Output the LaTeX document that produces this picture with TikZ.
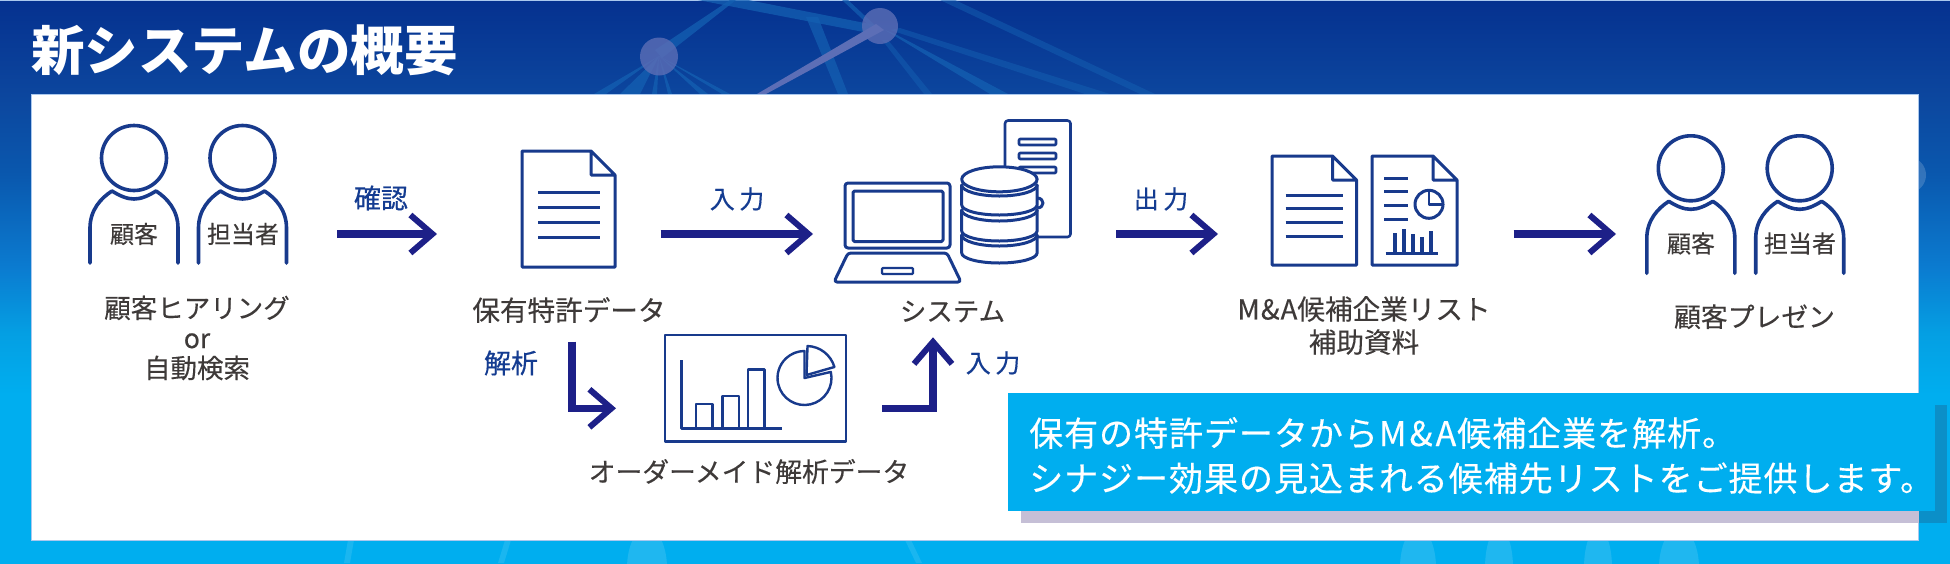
\documentclass[tikz,border=0pt]{standalone}
\usepackage{fontspec}
\usepackage{tikz}
\usepackage{xcolor}
\usetikzlibrary{arrows.meta,positioning,calc}
\setmainfont{Noto Sans CJK JP}
\newfontfamily\cjk[FakeBold=0.25]{Noto Sans CJK JP}
\newfontfamily\cjkhead{Noto Sans CJK JP}
\newfontfamily\cjkmid[FakeBold=0.5]{Noto Sans CJK JP}
\newfontfamily\cjkwide[FakeBold=0.5,LetterSpace=18]{Noto Sans CJK JP}
\newfontfamily\cjkbox[FakeBold=0.3,LetterSpace=2.85]{Noto Sans CJK JP}
\definecolor{bgnavy}{RGB}{5,49,143}
\definecolor{bgroyal}{RGB}{12,70,158}
\definecolor{bgmid}{RGB}{10,88,174}
\definecolor{bgocean}{RGB}{11,123,208}
\definecolor{bgsky}{RGB}{4,159,227}
\definecolor{skybox}{RGB}{0,174,239}
\definecolor{iconblue}{RGB}{24,58,140}
\definecolor{arrownavy}{RGB}{29,32,136}
\definecolor{labblue}{RGB}{20,60,145}
\definecolor{inkgrey}{RGB}{62,58,57}
\definecolor{shadowlilac}{RGB}{197,191,214}
\definecolor{shadowsea}{RGB}{11,143,200}
\definecolor{panelrim}{RGB}{170,200,238}
\definecolor{netblue}{RGB}{20,96,178}
\definecolor{netpurple}{RGB}{92,110,182}
\pgfdeclareverticalshading{bgfade}{100bp}{color(0bp)=(skybox); color(40bp)=(skybox);
  color(45.4bp)=(bgsky); color(51.3bp)=(bgocean); color(59.5bp)=(bgmid);
  color(66.6bp)=(bgroyal); color(75bp)=(bgnavy); color(100bp)=(bgnavy)}
\tikzset{
  icon/.style={draw=iconblue,line width=3pt,line join=round,line cap=round},
  sheetline/.style={draw=iconblue,line width=3pt},
  flow/.style={draw=arrownavy,line width=7.5pt,
    -{Straight Barb[length=22pt,width=38pt,line width=6pt]}},
  lab/.style={font=\cjk\fontsize{26.5}{30}\selectfont,text=inkgrey,align=center,inner sep=0pt},
  labwide/.style={font=\cjk\fontsize{27.6}{33}\selectfont,text=inkgrey,align=center,inner sep=0pt},
  tag/.style={font=\cjk\fontsize{24}{28}\selectfont,text=inkgrey,inner sep=0pt},
  act/.style={font=\cjkmid\fontsize{27}{30}\selectfont,text=labblue,inner sep=0pt},
  actwide/.style={font=\cjkwide\fontsize{25}{28}\selectfont,text=labblue,inner sep=0pt},
  net/.style={fill=netblue,fill opacity=.75},
  spot/.style={fill=netpurple,fill opacity=.8},
  person/.pic={
    \draw[icon,line width=3.6pt] (0,0) circle[radius=32.5];
    \draw[icon,line width=3.6pt] (-44,105) -- (-44,70) .. controls (-44,52) and (-33,40) .. (-22,33)
      .. controls (-14,38) and (-7,41) .. (0,41) .. controls (7,41) and (14,38) .. (22,33)
      .. controls (33,40) and (44,52) .. (44,70) -- (44,105);
  },
}
\newcommand{\sheet}[4]{\draw[icon,fill=white] (#1,#2) -- (#3-24,#2) -- (#3,#2+24) -- (#3,#4)
  -- (#1,#4) -- cycle (#3-24,#2) -- (#3-24,#2+24) -- (#3,#2+24);}
\begin{document}
\begin{tikzpicture}[x=1pt,y=-1pt]
  \useasboundingbox (0,0) rectangle (1950,563);
  \shade[shading=bgfade] (0,0) rectangle (1950,563);
  \draw[panelrim,line width=1pt] (0,.5) -- (1950,.5);
  \foreach \a/\b in {594/606,620/640,652/657,668/672,700/708,722/730}{\fill[net] (\a,94) -- (\b,94) -- (659,56) -- cycle;}
  \fill[net] (655,50) -- (662,58) -- (736,0) -- (730,0) -- cycle;
  \fill[net] (698,0) -- (748,0) -- (880,26) -- (874,34) -- cycle;
  \fill[net,opacity=.7] (806,17) -- (818,17) -- (848,94) -- (838,94) -- cycle;
  \fill[net,opacity=.7] (842,0) -- (848,0) -- (880,30) -- (874,30) -- cycle;
  \fill[net] (885,30) -- (895,34) -- (1008,94) -- (990,94) -- cycle;
  \fill[net,opacity=.5] (890,30) -- (900,28) -- (1110,94) -- (1085,94) -- cycle;
  \fill[net,opacity=.5] (940,0) -- (955,0) -- (1155,94) -- (1140,94) -- cycle;
  \fill[net,opacity=.5] (882,40) -- (888,40) -- (932,94) -- (924,94) -- cycle;
  \fill[netpurple] (757,94) -- (766,94) -- (884,30) -- (876,24) -- cycle;
  \fill[spot] (659,56.5) circle[radius=19];
  \fill[spot] (880,26) circle[radius=18];
  \begin{scope}
    \clip (0,540) rectangle (1950,563);
    \foreach \x/\r in {647/20,1418/18,1499/14,1598/14,1679/20}{
      \fill[white,opacity=.12] (\x,568) ellipse[x radius=\r,y radius=40];}
    \fill[white,opacity=.1] (348,540) -- (354,540) -- (350,563) -- (344,563) -- cycle;
    \fill[white,opacity=.1] (505,540) -- (511,540) -- (504,563) -- (498,563) -- cycle;
    \fill[white,opacity=.1] (905,540) -- (911,540) -- (922,563) -- (916,563) -- cycle;
  \end{scope}
  \fill[white,opacity=.17] (1908,175) circle[radius=18];
  \fill[white,draw=panelrim,line width=1pt] (31,94) rectangle (1918.5,540);
  \node[font=\cjkhead\bfseries\fontsize{53.5}{60}\selectfont,text=white,inner sep=0pt,anchor=west] (title) at (31,50) {新システムの概要};

  \foreach \x/\y in {134/158,242.5/158,1690.8/168.3,1799.7/168.3}{\pic at (\x,\y) {person};}
  \node[tag] (cust1) at (134,234) {顧客};
  \node[tag] (staff1) at (243,234) {担当者};
  \node[tag] (cust2) at (1691,243.5) {顧客};
  \node[tag] (staff2) at (1800,243.5) {担当者};
  \node[lab] (hearing) at (197,338) {顧客ヒアリング\\{\cjkmid or}\\自動検索};

  \sheet{522}{151}{615}{267}
  \foreach \y in {192,207,222,237}{\draw[sheetline] (538,\y) -- (600,\y);}
  \node[labwide] (patent) at (569,310) {保有特許データ};

  \draw[icon,fill=white,rounded corners=3pt,line width=2.6pt] (1005,120.5) rectangle (1070.5,237);
  \foreach \y in {142,156,170}{\draw[icon,rounded corners=1pt,line width=2.6pt] (1019,\y-3) rectangle (1056,\y+3);}
  \draw[icon,fill=white] (1037,198) .. controls (1045,198) and (1045,208) .. (1037,208);
  \fill[white] (961.7,179) -- (961.7,253) arc[start angle=180,end angle=0,x radius=37.7,y radius=11] -- (1037.2,179) -- cycle;
  \foreach \a/\b in {235/253,210/231,185/205}{
    \draw[icon] (961.7,\a) -- (961.7,\b) arc[start angle=180,end angle=0,x radius=37.7,y radius=10] -- (1037.1,\a);
    \draw[icon] (961.7,\a) arc[start angle=180,end angle=0,x radius=37.7,y radius=11];}
  \draw[icon,fill=white] (999.4,179.3) ellipse[x radius=37.7,y radius=12.5];
  \draw[icon,rounded corners=3pt] (845,183) rectangle (950,248);
  \draw[icon,rounded corners=1.5pt] (853,191) rectangle (943,241.5);
  \draw[icon,rounded corners=3pt] (848,253) -- (947,253) -- (961,282) -- (834,282) -- cycle;
  \draw[icon,rounded corners=1pt,line width=2.4pt] (882,268) rectangle (913,274);
  \node[lab] (system) at (952.5,311.5) {システム};

  \draw[icon,line width=2.6pt] (665,335) rectangle (846,441.5);
  \draw[icon,line width=2.4pt,line cap=butt] (681.3,360) -- (681.3,428.3) -- (781.7,428.3);
  \foreach \l/\r/\t in {696/712.4/404,722.4/739/395.7,747.7/764.3/369.3}{
    \draw[icon,line width=2.4pt,line cap=butt] (\l,428.3) -- (\l,\t) -- (\r,\t) -- (\r,428.3);}
  \draw[icon,line width=2.4pt] (804.5,378) -- ++(-13:27) arc[start angle=-13,end angle=270,radius=27] -- cycle;
  \draw[icon,line width=2.4pt] (806.5,375) -- ++(-88:29) arc[start angle=-88,end angle=-16,radius=29] -- cycle;
  \node[lab,font=\cjk\fontsize{26.8}{30}\selectfont] (custom) at (749,471.5) {オーダーメイド解析データ};

  \sheet{1272}{156}{1356.5}{265}
  \foreach \y in {195,208.7,222.3,236.3}{\draw[sheetline] (1285.5,\y) -- (1342.5,\y);}
  \sheet{1372}{156}{1457}{265}
  \foreach \y in {178.3,191.7,205.3,219.3}{\draw[sheetline] (1384,\y) -- (1408.3,\y);}
  \draw[icon] (1429,204.3) circle[radius=14];
  \draw[icon,line width=2.6pt] (1429,190.3) -- (1429,204.3) -- (1443,204.3);
  \draw[sheetline] (1385.7,253.7) -- (1438.3,253.7);
  \foreach \x/\t in {1395/233.3,1404/229.3,1413/234,1422/237.3,1431/231}{\fill[iconblue] (\x-2.3,\t) rectangle (\x+2.3,253);}
  \node[labwide] (maalist) at (1364,325.5) {M\kern1pt\&\kern1pt A候補企業リスト\\補助資料};
  \node[lab,font=\cjk\fontsize{26.8}{30}\selectfont] (present) at (1754.5,316.7) {顧客プレゼン};

  \coordinate (a1s) at (337,234);
  \coordinate (a1e) at (437,234);
  \coordinate (a2s) at (660.5,234);
  \coordinate (a2e) at (813,234);
  \coordinate (a3s) at (572,341.7);
  \coordinate (a3e) at (616,408.3);
  \coordinate (a4s) at (882.4,408.3);
  \coordinate (a4e) at (933,337.3);
  \coordinate (a5s) at (1116,234);
  \coordinate (a5e) at (1218,234);
  \coordinate (a6s) at (1513.5,234);
  \coordinate (a6e) at (1616,234);
  \draw[flow] (a1s) -- (a1e);
  \draw[flow] (a2s) -- (a2e);
  \draw[flow] (a3s) |- (a3e);
  \draw[flow] (a4s) -| (a4e);
  \draw[flow] (a5s) -- (a5e);
  \draw[flow] (a6s) -- (a6e);
  \node[act] (confirm) at (381,198) {確認};
  \node[actwide] (in1) at (737,199) {入力};
  \node[act] (analyze) at (511,363) {解析};
  \node[actwide] (in2) at (993,363) {入力};
  \node[actwide] (out1) at (1161,199) {出力};

  \fill[shadowsea] (1919,405) rectangle (1947,523);
  \fill[shadowlilac] (1021,505) rectangle (1919,523);
  \fill[skybox] (1008,392.7) rectangle (1934.7,510.7);
  \node[font=\cjkbox\fontsize{34}{45}\selectfont,text=white,align=left,inner sep=0pt,anchor=west] (summary) at (1029,455.5)
    {保有の特許データからM\kern3pt\&\kern3pt A候補企業を解析。\\シナジー効果の見込まれる候補先リストをご提供します。};
\end{tikzpicture}
\end{document}
